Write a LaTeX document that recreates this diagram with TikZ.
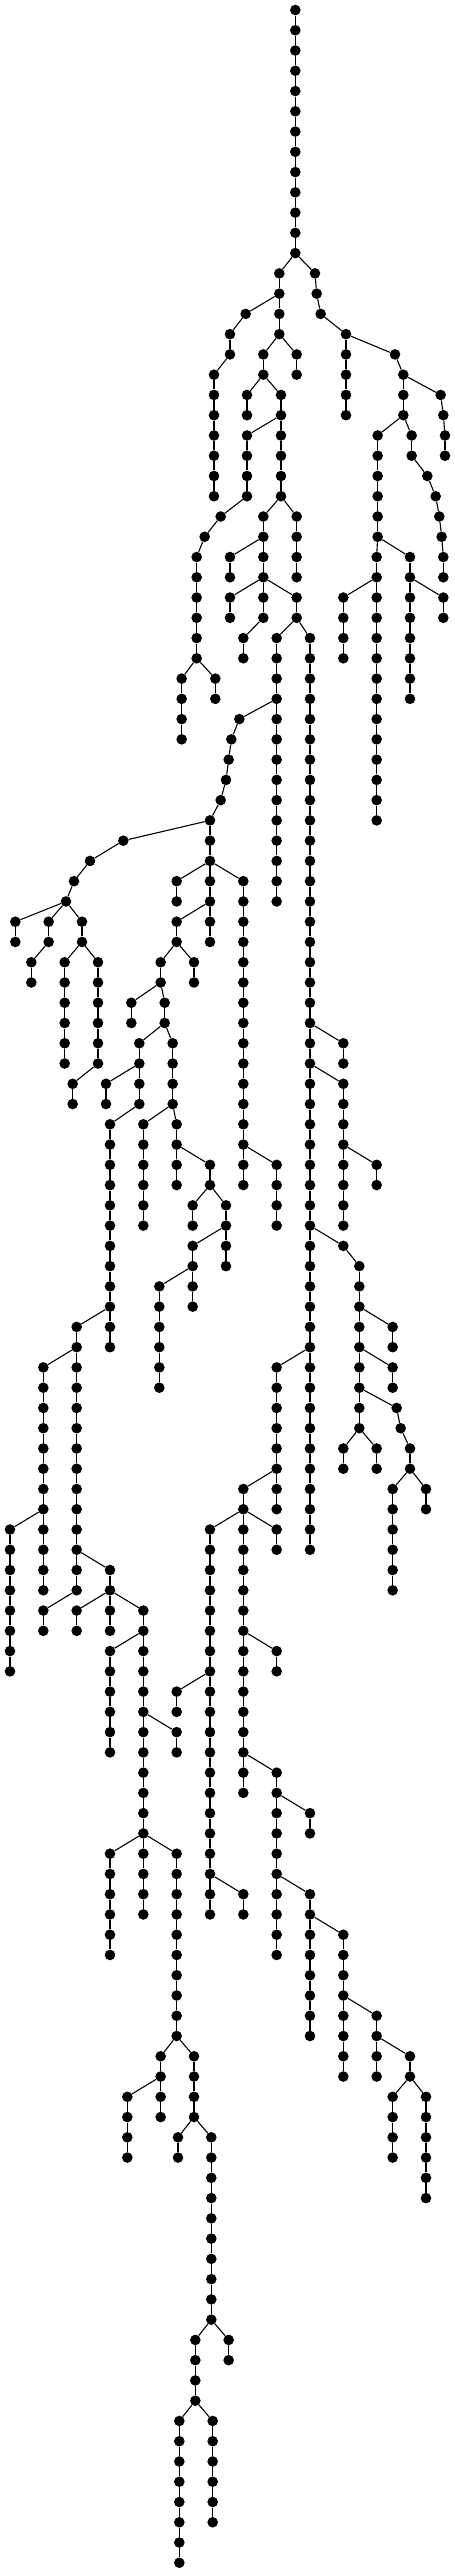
\documentclass[tikz,border=0pt]{standalone}
\tikzset{
  dot/.style={circle,fill=black,draw=none,inner sep=0pt,minimum size=10.6pt},
  link/.style={line width=1.1pt,black}
}
% segments: first row / last row / column / column of parent (in row first-1)
\def\segs{0/12/886/0, 13/16/838/886, 13/13/945/886, 14/14/950/945, 15/15/962/950,
16/20/1038/962, 15/15/737/838, 16/17/690/737, 18/24/642/690, 17/18/790/838,
17/18/890/838, 19/20/741/790, 19/24/843/790, 21/24/741/843, 25/25/662/741,
26/26/614/662, 27/32/590/614, 33/36/545/590, 33/34/646/590, 25/30/790/843,
25/28/890/843, 27/28/690/790, 29/30/690/790, 29/30/890/790, 31/32/730/790,
31/44/830/890, 31/76/930/890, 17/17/1185/1038, 18/20/1210/1185, 19/19/1322/1210,
20/20/1330/1322, 21/22/1335/1330, 21/26/1133/1210, 21/22/1235/1210, 23/23/1282/1235,
24/24/1307/1282, 25/25/1318/1307, 26/26/1325/1318, 27/28/1330/1325, 27/40/1130/1133,
27/34/1230/1133, 29/30/1330/1230, 29/32/1030/1130, 35/35/718/830, 36/36/694/718,
37/37/686/694, 38/38/678/686, 39/39/662/678, 40/46/630/662, 41/41/370/630,
42/42/270/370, 43/43/222/270, 44/44/198/222, 45/46/46/198, 45/46/146/198,
47/48/94/146, 45/46/246/198, 47/52/194/246, 47/52/294/246, 53/54/218/294,
43/44/530/630, 43/58/730/630, 45/46/530/630, 47/48/482/530, 47/48/582/530,
49/50/394/482, 49/50/494/482, 51/54/418/494, 51/54/518/494, 53/54/318/418,
55/66/330/418, 55/60/430/518, 55/58/530/518, 57/58/630/530, 59/60/578/630,
59/62/678/630, 61/64/578/678, 63/68/478/578, 57/60/830/730, 51/52/1030/930,
53/60/1030/930, 57/58/1130/1030, 61/61/1030/930, 62/70/1078/1030, 65/66/1178/1078,
67/68/1178/1078, 69/69/1190/1078, 70/70/1202/1190, 71/72/1030/1078, 71/72/1130/1078,
71/72/1230/1202, 73/78/1178/1230, 73/74/1278/1230, 65/78/230/330, 67/78/130/230,
75/82/30/130, 77/78/330/230, 79/80/130/230, 79/80/230/330, 79/80/330/330,
79/94/430/330, 81/86/330/430, 85/86/530/430, 91/96/330/430, 91/100/530/430,
101/104/482/530, 103/106/382/482, 101/104/582/530, 105/106/534/582, 105/114/634/582,
115/118/586/634, 115/116/686/634, 119/126/538/586, 119/124/638/586, 67/74/830/930,
73/88/730/830, 75/94/630/730, 83/84/530/630, 93/94/730/630, 75/76/830/730,
81/82/830/730, 87/96/830/730, 89/90/930/830, 93/100/930/830, 95/102/1030/930,
99/102/1130/1030, 101/102/1230/1130, 103/106/1178/1230, 103/108/1278/1230}
\begin{document}
\begin{tikzpicture}[x=0.33333pt,y=-20.26pt]
\useasboundingbox (0,-0.4936) rectangle (1365,126.555);
% nodes
\foreach \a/\b/\x/\p in \segs {
  \foreach \r in {\a,...,\b} {
    \node[dot] (n\r-\x) at (\x,\r) {};
  }
}
% connectors
\foreach \a/\b/\x/\p in \segs {
  \ifnum\a>0
    \pgfmathtruncatemacro\pa{\a-1}
    \draw[link] (n\pa-\p) -- (n\a-\x);
  \fi
  \ifnum\b>\a
    \pgfmathtruncatemacro\ss{\a+1}
    \foreach \r in {\ss,...,\b} {
      \pgfmathtruncatemacro\pr{\r-1}
      \draw[link] (n\pr-\x) -- (n\r-\x);
    }
  \fi
}
\end{tikzpicture}
\end{document}
